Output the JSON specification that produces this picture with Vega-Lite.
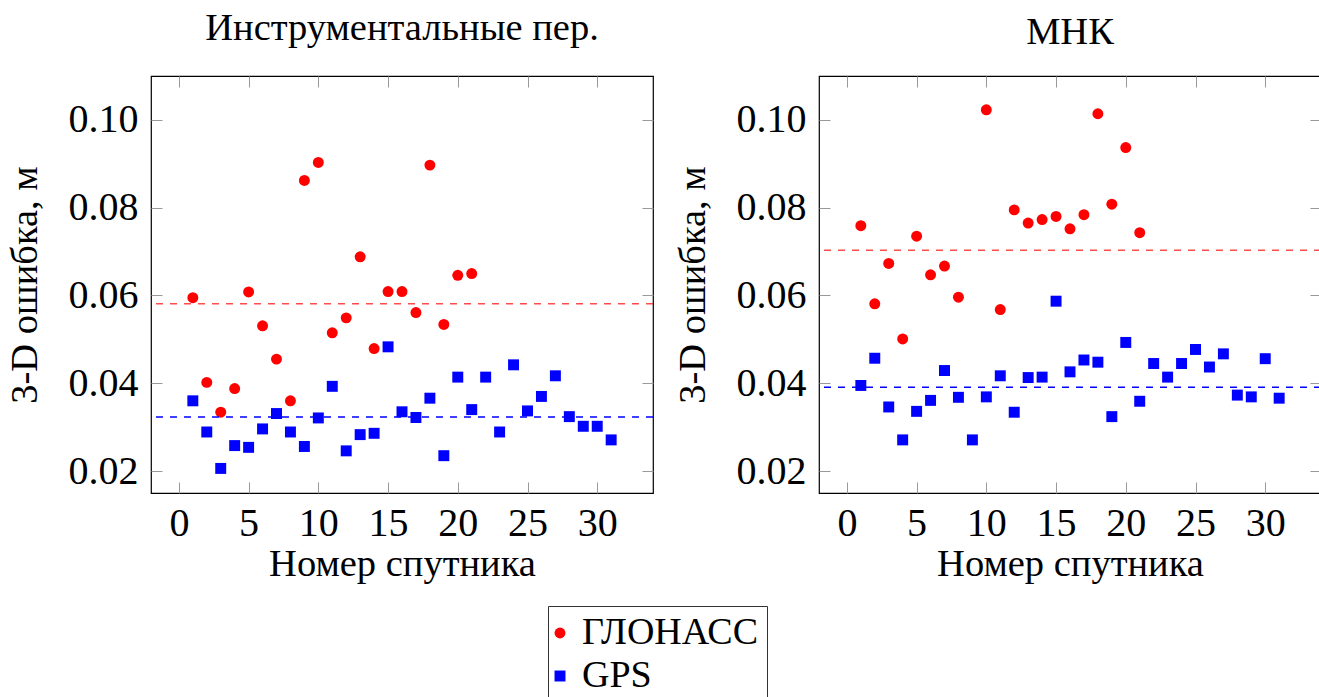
{
  "$schema": "https://vega.github.io/schema/vega-lite/v6.json",
  "background": "white",
  "padding": {"left": 4, "top": 8, "right": 0, "bottom": 0},
  "config": {
    "font": "Liberation Serif",
    "view": {"stroke": "black", "strokeWidth": 1.2},
    "axis": {
      "grid": false, "domain": false, "tickColor": "#999999", "tickSize": -11, "tickWidth": 1,
      "labelFont": "Liberation Serif", "labelFontSize": 40, "labelColor": "black",
      "titleFont": "Liberation Serif", "titleFontSize": 38.5, "titleFontWeight": "normal", "titleColor": "black"
    },
    "title": {"font": "Liberation Serif", "fontSize": 38.5, "fontWeight": "normal", "color": "black", "baseline": "alphabetic"},
    "legend": {
      "orient": "none", "legendX": 397, "legendY": 530, "strokeColor": "#333333", "padding": 8,
      "labelFont": "Liberation Serif", "labelFontSize": 38, "labelColor": "black", "labelLimit": 400, "symbolSize": 120,
      "rowPadding": 5, "labelOffset": 3, "symbolOffset": -15, "symbolStrokeWidth": 0
    }
  },
  "datasets": {
    "pts": [
      {"panel": "instr", "sys": "ГЛОНАСС", "sat": 1, "err": 0.0595},
      {"panel": "instr", "sys": "ГЛОНАСС", "sat": 2, "err": 0.0402},
      {"panel": "instr", "sys": "ГЛОНАСС", "sat": 3, "err": 0.0334},
      {"panel": "instr", "sys": "ГЛОНАСС", "sat": 4, "err": 0.0388},
      {"panel": "instr", "sys": "ГЛОНАСС", "sat": 5, "err": 0.0608},
      {"panel": "instr", "sys": "ГЛОНАСС", "sat": 6, "err": 0.0531},
      {"panel": "instr", "sys": "ГЛОНАСС", "sat": 7, "err": 0.0455},
      {"panel": "instr", "sys": "ГЛОНАСС", "sat": 8, "err": 0.0360},
      {"panel": "instr", "sys": "ГЛОНАСС", "sat": 9, "err": 0.0862},
      {"panel": "instr", "sys": "ГЛОНАСС", "sat": 10, "err": 0.0903},
      {"panel": "instr", "sys": "ГЛОНАСС", "sat": 11, "err": 0.0515},
      {"panel": "instr", "sys": "ГЛОНАСС", "sat": 12, "err": 0.0549},
      {"panel": "instr", "sys": "ГЛОНАСС", "sat": 13, "err": 0.0688},
      {"panel": "instr", "sys": "ГЛОНАСС", "sat": 14, "err": 0.0479},
      {"panel": "instr", "sys": "ГЛОНАСС", "sat": 15, "err": 0.0609},
      {"panel": "instr", "sys": "ГЛОНАСС", "sat": 16, "err": 0.0609},
      {"panel": "instr", "sys": "ГЛОНАСС", "sat": 17, "err": 0.0561},
      {"panel": "instr", "sys": "ГЛОНАСС", "sat": 18, "err": 0.0897},
      {"panel": "instr", "sys": "ГЛОНАСС", "sat": 19, "err": 0.0534},
      {"panel": "instr", "sys": "ГЛОНАСС", "sat": 20, "err": 0.0646},
      {"panel": "instr", "sys": "ГЛОНАСС", "sat": 21, "err": 0.0650},
      {"panel": "instr", "sys": "GPS", "sat": 1, "err": 0.0360},
      {"panel": "instr", "sys": "GPS", "sat": 2, "err": 0.0289},
      {"panel": "instr", "sys": "GPS", "sat": 3, "err": 0.0206},
      {"panel": "instr", "sys": "GPS", "sat": 4, "err": 0.0258},
      {"panel": "instr", "sys": "GPS", "sat": 5, "err": 0.0254},
      {"panel": "instr", "sys": "GPS", "sat": 6, "err": 0.0296},
      {"panel": "instr", "sys": "GPS", "sat": 7, "err": 0.0331},
      {"panel": "instr", "sys": "GPS", "sat": 8, "err": 0.0289},
      {"panel": "instr", "sys": "GPS", "sat": 9, "err": 0.0256},
      {"panel": "instr", "sys": "GPS", "sat": 10, "err": 0.0321},
      {"panel": "instr", "sys": "GPS", "sat": 11, "err": 0.0393},
      {"panel": "instr", "sys": "GPS", "sat": 12, "err": 0.0246},
      {"panel": "instr", "sys": "GPS", "sat": 13, "err": 0.0283},
      {"panel": "instr", "sys": "GPS", "sat": 14, "err": 0.0286},
      {"panel": "instr", "sys": "GPS", "sat": 15, "err": 0.0483},
      {"panel": "instr", "sys": "GPS", "sat": 16, "err": 0.0335},
      {"panel": "instr", "sys": "GPS", "sat": 17, "err": 0.0322},
      {"panel": "instr", "sys": "GPS", "sat": 18, "err": 0.0366},
      {"panel": "instr", "sys": "GPS", "sat": 19, "err": 0.0235},
      {"panel": "instr", "sys": "GPS", "sat": 20, "err": 0.0414},
      {"panel": "instr", "sys": "GPS", "sat": 21, "err": 0.0340},
      {"panel": "instr", "sys": "GPS", "sat": 22, "err": 0.0414},
      {"panel": "instr", "sys": "GPS", "sat": 23, "err": 0.0289},
      {"panel": "instr", "sys": "GPS", "sat": 24, "err": 0.0442},
      {"panel": "instr", "sys": "GPS", "sat": 25, "err": 0.0337},
      {"panel": "instr", "sys": "GPS", "sat": 26, "err": 0.0370},
      {"panel": "instr", "sys": "GPS", "sat": 27, "err": 0.0417},
      {"panel": "instr", "sys": "GPS", "sat": 28, "err": 0.0324},
      {"panel": "instr", "sys": "GPS", "sat": 29, "err": 0.0302},
      {"panel": "instr", "sys": "GPS", "sat": 30, "err": 0.0302},
      {"panel": "instr", "sys": "GPS", "sat": 31, "err": 0.0271},
      {"panel": "mnk", "sys": "ГЛОНАСС", "sat": 1, "err": 0.0759},
      {"panel": "mnk", "sys": "ГЛОНАСС", "sat": 2, "err": 0.0581},
      {"panel": "mnk", "sys": "ГЛОНАСС", "sat": 3, "err": 0.0673},
      {"panel": "mnk", "sys": "ГЛОНАСС", "sat": 4, "err": 0.0501},
      {"panel": "mnk", "sys": "ГЛОНАСС", "sat": 5, "err": 0.0735},
      {"panel": "mnk", "sys": "ГЛОНАСС", "sat": 6, "err": 0.0647},
      {"panel": "mnk", "sys": "ГЛОНАСС", "sat": 7, "err": 0.0667},
      {"panel": "mnk", "sys": "ГЛОНАСС", "sat": 8, "err": 0.0596},
      {"panel": "mnk", "sys": "ГЛОНАСС", "sat": 10, "err": 0.1023},
      {"panel": "mnk", "sys": "ГЛОНАСС", "sat": 11, "err": 0.0568},
      {"panel": "mnk", "sys": "ГЛОНАСС", "sat": 12, "err": 0.0795},
      {"panel": "mnk", "sys": "ГЛОНАСС", "sat": 13, "err": 0.0765},
      {"panel": "mnk", "sys": "ГЛОНАСС", "sat": 14, "err": 0.0773},
      {"panel": "mnk", "sys": "ГЛОНАСС", "sat": 15, "err": 0.0780},
      {"panel": "mnk", "sys": "ГЛОНАСС", "sat": 16, "err": 0.0752},
      {"panel": "mnk", "sys": "ГЛОНАСС", "sat": 17, "err": 0.0784},
      {"panel": "mnk", "sys": "ГЛОНАСС", "sat": 18, "err": 0.1014},
      {"panel": "mnk", "sys": "ГЛОНАСС", "sat": 19, "err": 0.0808},
      {"panel": "mnk", "sys": "ГЛОНАСС", "sat": 20, "err": 0.0937},
      {"panel": "mnk", "sys": "ГЛОНАСС", "sat": 21, "err": 0.0743},
      {"panel": "mnk", "sys": "GPS", "sat": 1, "err": 0.0395},
      {"panel": "mnk", "sys": "GPS", "sat": 2, "err": 0.0457},
      {"panel": "mnk", "sys": "GPS", "sat": 3, "err": 0.0346},
      {"panel": "mnk", "sys": "GPS", "sat": 4, "err": 0.0271},
      {"panel": "mnk", "sys": "GPS", "sat": 5, "err": 0.0336},
      {"panel": "mnk", "sys": "GPS", "sat": 6, "err": 0.0361},
      {"panel": "mnk", "sys": "GPS", "sat": 7, "err": 0.0429},
      {"panel": "mnk", "sys": "GPS", "sat": 8, "err": 0.0368},
      {"panel": "mnk", "sys": "GPS", "sat": 9, "err": 0.0271},
      {"panel": "mnk", "sys": "GPS", "sat": 10, "err": 0.0369},
      {"panel": "mnk", "sys": "GPS", "sat": 11, "err": 0.0417},
      {"panel": "mnk", "sys": "GPS", "sat": 12, "err": 0.0334},
      {"panel": "mnk", "sys": "GPS", "sat": 13, "err": 0.0413},
      {"panel": "mnk", "sys": "GPS", "sat": 14, "err": 0.0414},
      {"panel": "mnk", "sys": "GPS", "sat": 15, "err": 0.0587},
      {"panel": "mnk", "sys": "GPS", "sat": 16, "err": 0.0426},
      {"panel": "mnk", "sys": "GPS", "sat": 17, "err": 0.0453},
      {"panel": "mnk", "sys": "GPS", "sat": 18, "err": 0.0448},
      {"panel": "mnk", "sys": "GPS", "sat": 19, "err": 0.0324},
      {"panel": "mnk", "sys": "GPS", "sat": 20, "err": 0.0493},
      {"panel": "mnk", "sys": "GPS", "sat": 21, "err": 0.0359},
      {"panel": "mnk", "sys": "GPS", "sat": 22, "err": 0.0445},
      {"panel": "mnk", "sys": "GPS", "sat": 23, "err": 0.0414},
      {"panel": "mnk", "sys": "GPS", "sat": 24, "err": 0.0445},
      {"panel": "mnk", "sys": "GPS", "sat": 25, "err": 0.0477},
      {"panel": "mnk", "sys": "GPS", "sat": 26, "err": 0.0437},
      {"panel": "mnk", "sys": "GPS", "sat": 27, "err": 0.0467},
      {"panel": "mnk", "sys": "GPS", "sat": 28, "err": 0.0373},
      {"panel": "mnk", "sys": "GPS", "sat": 29, "err": 0.0369},
      {"panel": "mnk", "sys": "GPS", "sat": 30, "err": 0.0456},
      {"panel": "mnk", "sys": "GPS", "sat": 31, "err": 0.0366}
    ],
    "means": [
      {"panel": "instr", "sys": "ГЛОНАСС", "mean": 0.0581},
      {"panel": "instr", "sys": "GPS", "mean": 0.0323},
      {"panel": "mnk", "sys": "ГЛОНАСС", "mean": 0.0703},
      {"panel": "mnk", "sys": "GPS", "mean": 0.0391}
    ]
  },
  "spacing": 17,
  "resolve": {"scale": {"color": "shared", "shape": "shared"}, "legend": {"color": "shared", "shape": "shared"}},
  "hconcat": [
    {
      "width": 502, "height": 417,
      "title": {"text": "Инструментальные пер.", "offset": 27},
      "resolve": {"axis": {"x": "independent", "y": "independent"}},
      "layer": [
        {
          "data": {"name": "pts"},
          "transform": [{"filter": "datum.panel === 'instr'"}],
          "mark": {"type": "point", "filled": true, "opacity": 1, "size": 120},
          "encoding": {
            "x": {"field": "sat", "type": "quantitative", "scale": {"domain": [-2, 34], "nice": false, "zero": false},
                  "axis": {"orient": "bottom", "values": [0, 5, 10, 15, 20, 25, 30], "title": "Номер спутника", "labelPadding": 21, "titlePadding": 2}},
            "y": {"field": "err", "type": "quantitative", "scale": {"domain": [0.015, 0.11], "nice": false, "zero": false},
                  "axis": {"orient": "left", "values": [0.02, 0.04, 0.06, 0.08, 0.1], "format": ".2f", "title": "3-D ошибка, м", "labelPadding": 24, "titlePadding": 24}},
            "color": {"field": "sys", "type": "nominal", "scale": {"domain": ["ГЛОНАСС", "GPS"], "range": ["#ff0000", "#0000ff"]}, "legend": {"title": null}},
            "shape": {"field": "sys", "type": "nominal", "scale": {"domain": ["ГЛОНАСС", "GPS"], "range": ["circle", "square"]}, "legend": {"title": null}}
          }
        },
        {
          "data": {"name": "means"},
          "transform": [{"filter": "datum.panel === 'instr' && datum.sys === 'ГЛОНАСС'"}],
          "mark": {"type": "rule", "color": "#ff0000", "opacity": 0.7, "strokeDash": [7, 7], "strokeWidth": 1.4},
          "encoding": {"y": {"field": "mean", "type": "quantitative", "scale": {"domain": [0.015, 0.11], "nice": false, "zero": false}, "axis": null}}
        },
        {
          "data": {"name": "means"},
          "transform": [{"filter": "datum.panel === 'instr' && datum.sys === 'GPS'"}],
          "mark": {"type": "rule", "color": "#0000ff", "strokeDash": [7, 7], "strokeWidth": 1.4},
          "encoding": {"y": {"field": "mean", "type": "quantitative", "scale": {"domain": [0.015, 0.11], "nice": false, "zero": false}, "axis": null}}
        },
        {
          "data": {"name": "pts"},
          "transform": [{"filter": "datum.panel === 'instr'"}],
          "mark": {"type": "point", "opacity": 0},
          "encoding": {
            "x": {"field": "sat", "type": "quantitative", "scale": {"domain": [-2, 34], "nice": false, "zero": false},
                  "axis": {"orient": "top", "values": [0, 5, 10, 15, 20, 25, 30], "labels": false, "title": null}},
            "y": {"field": "err", "type": "quantitative", "scale": {"domain": [0.015, 0.11], "nice": false, "zero": false},
                  "axis": {"orient": "right", "values": [0.02, 0.04, 0.06, 0.08, 0.1], "labels": false, "title": null}}
          }
        }
      ]
    },
    {
      "width": 502, "height": 417,
      "title": {"text": "МНК", "offset": 23},
      "resolve": {"axis": {"x": "independent", "y": "independent"}},
      "layer": [
        {
          "data": {"name": "pts"},
          "transform": [{"filter": "datum.panel === 'mnk'"}],
          "mark": {"type": "point", "filled": true, "opacity": 1, "size": 120},
          "encoding": {
            "x": {"field": "sat", "type": "quantitative", "scale": {"domain": [-2, 34], "nice": false, "zero": false},
                  "axis": {"orient": "bottom", "values": [0, 5, 10, 15, 20, 25, 30], "title": "Номер спутника", "labelPadding": 21, "titlePadding": 2}},
            "y": {"field": "err", "type": "quantitative", "scale": {"domain": [0.015, 0.11], "nice": false, "zero": false},
                  "axis": {"orient": "left", "values": [0.02, 0.04, 0.06, 0.08, 0.1], "format": ".2f", "title": "3-D ошибка, м", "labelPadding": 24, "titlePadding": 24}},
            "color": {"field": "sys", "type": "nominal", "scale": {"domain": ["ГЛОНАСС", "GPS"], "range": ["#ff0000", "#0000ff"]}, "legend": {"title": null}},
            "shape": {"field": "sys", "type": "nominal", "scale": {"domain": ["ГЛОНАСС", "GPS"], "range": ["circle", "square"]}, "legend": {"title": null}}
          }
        },
        {
          "data": {"name": "means"},
          "transform": [{"filter": "datum.panel === 'mnk' && datum.sys === 'ГЛОНАСС'"}],
          "mark": {"type": "rule", "color": "#ff0000", "opacity": 0.7, "strokeDash": [7, 7], "strokeWidth": 1.4},
          "encoding": {"y": {"field": "mean", "type": "quantitative", "scale": {"domain": [0.015, 0.11], "nice": false, "zero": false}, "axis": null}}
        },
        {
          "data": {"name": "means"},
          "transform": [{"filter": "datum.panel === 'mnk' && datum.sys === 'GPS'"}],
          "mark": {"type": "rule", "color": "#0000ff", "strokeDash": [7, 7], "strokeWidth": 1.4},
          "encoding": {"y": {"field": "mean", "type": "quantitative", "scale": {"domain": [0.015, 0.11], "nice": false, "zero": false}, "axis": null}}
        },
        {
          "data": {"name": "pts"},
          "transform": [{"filter": "datum.panel === 'mnk'"}],
          "mark": {"type": "point", "opacity": 0},
          "encoding": {
            "x": {"field": "sat", "type": "quantitative", "scale": {"domain": [-2, 34], "nice": false, "zero": false},
                  "axis": {"orient": "top", "values": [0, 5, 10, 15, 20, 25, 30], "labels": false, "title": null}},
            "y": {"field": "err", "type": "quantitative", "scale": {"domain": [0.015, 0.11], "nice": false, "zero": false},
                  "axis": {"orient": "right", "values": [0.02, 0.04, 0.06, 0.08, 0.1], "labels": false, "title": null}}
          }
        }
      ]
    }
  ]
}
